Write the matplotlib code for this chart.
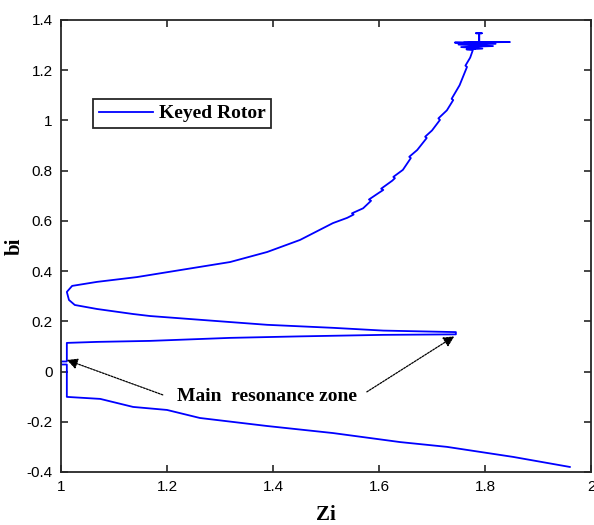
import matplotlib
matplotlib.use("Agg")
import matplotlib.pyplot as plt

# trace of the Zi-bi locus
zi = [
    1.960, 1.853, 1.728, 1.640, 1.513, 1.389, 1.262, 1.200, 1.136, 1.074, 1.011,
    1.011, 1.000, 1.000, 1.011, 1.011,
    1.068, 1.168, 1.319, 1.451, 1.608, 1.745,
    1.745, 1.608, 1.513, 1.389, 1.319, 1.168, 1.136, 1.068, 1.026, 1.015, 1.011,
    1.021, 1.068, 1.143, 1.225, 1.319, 1.389, 1.451, 1.513, 1.540, 1.552, 1.549,
    1.570, 1.585, 1.581, 1.600, 1.608, 1.604, 1.625, 1.630, 1.627, 1.645, 1.660,
    1.657, 1.672, 1.690, 1.687, 1.700, 1.715, 1.712, 1.728, 1.740, 1.737, 1.752,
    1.766, 1.763, 1.772, 1.777,
    1.765, 1.795, 1.755, 1.815, 1.750, 1.820, 1.743, 1.847, 1.789, 1.789, 1.783,
    1.794, 1.789, 1.789, 1.760, 1.790, 1.780,
]
bi = [
    -0.380, -0.340, -0.300, -0.281, -0.245, -0.217, -0.185, -0.153, -0.141, -0.109, -0.101,
    0.028, 0.028, 0.040, 0.040, 0.114,
    0.118, 0.122, 0.134, 0.140, 0.146, 0.148,
    0.157, 0.163, 0.174, 0.186, 0.197, 0.221, 0.229, 0.249, 0.265, 0.285, 0.317,
    0.341, 0.357, 0.376, 0.404, 0.436, 0.476, 0.524, 0.591, 0.612, 0.625, 0.630,
    0.650, 0.680, 0.685, 0.712, 0.723, 0.728, 0.760, 0.770, 0.775, 0.803, 0.850,
    0.855, 0.882, 0.930, 0.935, 0.960, 1.002, 1.008, 1.040, 1.081, 1.086, 1.140,
    1.213, 1.218, 1.250, 1.280,
    1.283, 1.286, 1.292, 1.296, 1.302, 1.305, 1.310, 1.312, 1.312, 1.347, 1.347,
    1.347, 1.347, 1.312, 1.310, 1.300, 1.285,
]

x_ticks = [1.0, 1.2, 1.4, 1.6, 1.8, 2.0]
x_labels = ["1", "1.2", "1.4", "1.6", "1.8", "2"]
y_ticks = [-0.4, -0.2, 0.0, 0.2, 0.4, 0.6, 0.8, 1.0, 1.2, 1.4]
y_labels = ["-0.4", "-0.2", "0", "0.2", "0.4", "0.6", "0.8", "1", "1.2", "1.4"]

note_text = "Main  resonance zone"
note_xy = (1.219, -0.101)
arrow_targets = [(1.011, 0.046), (1.742, 0.140)]
arrow_tails = [(1.192, -0.093), (1.577, -0.081)]

serif = "Liberation Serif"
sans = "Liberation Sans"

fig = plt.figure(figsize=(5.94, 5.25), dpi=100)
ax = fig.add_axes([0.1027, 0.101, 0.8923, 0.861])

ax.plot(zi, bi, color="#0000ff", lw=1.3, label="Keyed Rotor")

ax.set_xlim(1, 2)
ax.set_ylim(-0.4, 1.4)
ax.set_xticks(x_ticks)
ax.set_xticklabels(x_labels, family=sans, fontsize=11)
ax.set_yticks(y_ticks)
ax.set_yticklabels(y_labels, family=sans, fontsize=11)
ax.tick_params(direction="in", top=True, right=True, length=5, width=1.2,
               color="#262626", pad=6)
for sp in ax.spines.values():
    sp.set_linewidth(1.3)
    sp.set_color("#262626")

ax.set_xlabel("Zi", family=serif, fontweight="bold", fontsize=15, labelpad=8)
ax.set_ylabel("bi", family=serif, fontweight="bold", fontsize=15, labelpad=1)

leg = ax.legend(loc="upper left", bbox_to_anchor=(0.060, 0.825), borderaxespad=0,
                fancybox=False, edgecolor="#262626", framealpha=1,
                prop={"family": serif, "weight": "bold", "size": 14},
                handlelength=2.8, handletextpad=0.3, borderpad=0.3)
leg.get_frame().set_linewidth(1.3)

ax.text(note_xy[0], note_xy[1], note_text, family=serif, fontweight="bold",
        fontsize=14, va="center", ha="left")
for tgt, tail in zip(arrow_targets, arrow_tails):
    ax.annotate("", xy=tgt, xytext=tail,
                arrowprops=dict(arrowstyle="-|>", color="black", lw=0.9,
                                linestyle=(0, (1.5, 1)), mutation_scale=16,
                                shrinkA=0, shrinkB=0))

fig.savefig("out.png", dpi=100)
